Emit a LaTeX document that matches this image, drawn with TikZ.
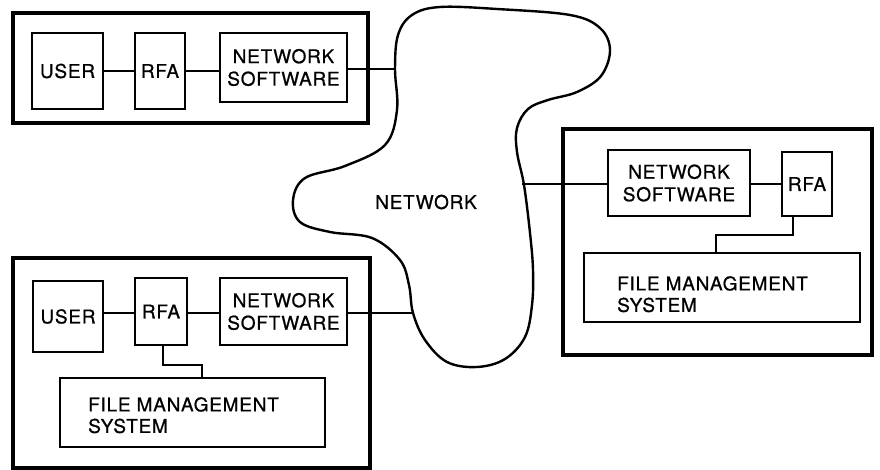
\documentclass[tikz,border=0pt]{standalone}
\usepackage{fontspec}
\setmainfont{TeX Gyre Heros}[LetterSpace=4.0,FakeBold=0.8]
\begin{document}
\begin{tikzpicture}[x=1pt,y=-1pt,
  outerbox/.style={draw,line width=3.2pt,inner sep=0pt,outer sep=0pt,anchor=north west},
  unit/.style={draw,line width=2pt,inner sep=0pt,outer sep=0pt,anchor=north west,align=center,
    font=\fontsize{19}{22.5}\selectfont},
  fmsbox/.style={draw,line width=2pt,inner sep=0pt,outer sep=0pt,anchor=north west},
  lbl/.style={inner sep=0pt,anchor=north west,align=left,font=\fontsize{19}{21.5}\selectfont},
  link/.style={line width=1.3pt},
  cloud/.style={line width=2.4pt}]
\useasboundingbox (0,0) rectangle (880,470);

% outer boxes
\node[outerbox,minimum width=355pt,minimum height=110pt] (sysA) at (13,13) {};
\node[outerbox,minimum width=357pt,minimum height=210pt] (sysB) at (13,258) {};
\node[outerbox,minimum width=309pt,minimum height=226pt] (sysC) at (563,129) {};

% top-left system
\node[unit,minimum width=71pt,minimum height=76pt] (userA) at (32,33) {USER};
\node[unit,minimum width=50pt,minimum height=76pt] (rfaA) at (135,33) {RFA};
\node[unit,minimum width=127pt,minimum height=69pt] (nsA) at (220,33) {NETWORK\\SOFTWARE};

% bottom-left system
\node[unit,minimum width=70pt,minimum height=71pt] (userB) at (33,281) {USER};
\node[unit,minimum width=52pt,minimum height=67pt] (rfaB) at (135,278) {RFA};
\node[unit,minimum width=127pt,minimum height=67pt] (nsB) at (220,278) {NETWORK\\SOFTWARE};
\node[fmsbox,minimum width=265pt,minimum height=69pt] (fmsB) at (60,378) {};
\node[lbl] (fmsBt) at (88,397) {FILE MANAGEMENT\\SYSTEM};

% right system
\node[unit,minimum width=142pt,minimum height=66pt] (nsC) at (608,150) {NETWORK\\SOFTWARE};
\node[unit,minimum width=50pt,minimum height=64pt] (rfaC) at (782,152) {RFA};
\node[fmsbox,minimum width=276pt,minimum height=69pt] (fmsC) at (584,253) {};
\node[lbl] (fmsCt) at (617,276) {FILE MANAGEMENT\\SYSTEM};

% network cloud
\draw[cloud] plot[smooth cycle,tension=0.6] coordinates {
  (440,7) (497,9) (570,15) (600,28) (610,50) (601,76) (577,92) (548,100) (528,109)
  (517,128) (517,152) (524,185) (530,233) (533,270) (532,305) (525,337) (505,359)
  (477,367) (447,362) (425,340) (413,313) (409,285) (400,260) (372,238) (330,232)
  (300,222) (293,200) (305,178) (345,166) (385,145) (397,110) (395,69) (398,35) (412,15)};
\node[font=\fontsize{19}{22}\selectfont] (net) at (426,202) {NETWORK};

\coordinate (cA) at (395,69);
\coordinate (cB) at (413,313);
\coordinate (cC) at (522,184);

% connectors
\draw[link] (userA.east) -- (rfaA.west);
\draw[link] (rfaA.east) -- (rfaA.east -| nsA.west);
\draw[link] (nsA.east |- cA) -- (cA);

\draw[link] (userB.east |- 0,313) -- (rfaB.west |- 0,313);
\draw[link] (rfaB.east |- 0,313) -- (nsB.west |- 0,313);
\draw[link] (nsB.east |- cB) -- (cB);
\coordinate (kB) at (202,365);
\draw[link] ([xshift=2pt]rfaB.south) |- (kB) -- (kB |- fmsB.north);

\draw[link] (cC) -- (cC -| nsC.west);
\draw[link] (nsC.east |- 0,184) -- (rfaC.west |- 0,184);
\coordinate (kC) at (716,235);
\draw[link] ([xshift=-14pt]rfaC.south) |- (kC) -- (kC |- fmsC.north);
\end{tikzpicture}
\end{document}
